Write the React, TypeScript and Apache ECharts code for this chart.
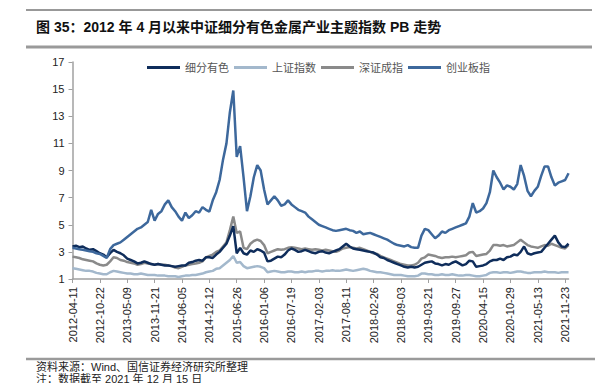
import React, { useEffect, useRef } from "react";
import * as echarts from "echarts";

const tickLabels = ["2012-04-11","2012-10-22","2013-05-09","2013-11-21","2014-06-05","2014-12-12","2015-06-26","2016-01-06","2016-07-19","2017-02-03","2017-08-11","2018-02-26","2018-09-03","2019-03-21","2019-09-27","2020-04-15","2020-10-29","2021-05-13","2021-11-23"];
const pointsPerTick = 8;
const yTicks = [1, 17, 2];

const seriesNames = ["细分有色", "上证指数", "深证成指", "创业板指"];

const nonferrous = [
3.4,3.45,3.35,3.4,3.25,3.15,3.2,3.05,2.9,2.8,2.6,2.9,3.15,3.0,2.9,2.75,
2.5,2.4,2.3,2.15,2.2,2.3,2.2,2.1,2.05,2.1,2.05,2.0,2.0,1.95,1.9,1.95,
2.0,2.0,2.2,2.25,2.35,2.4,2.35,2.6,2.6,2.55,2.8,3.0,3.3,3.6,4.2,4.9,
2.9,3.3,2.9,2.8,3.1,3.0,3.2,3.1,2.95,2.3,2.35,2.5,2.65,2.6,2.8,3.1,
3.25,3.15,3.0,3.05,3.15,3.05,2.95,2.9,3.0,3.05,2.95,2.9,3.0,3.1,3.2,3.4,
3.6,3.4,3.25,3.2,3.15,3.1,3.05,3.0,2.95,2.8,2.6,2.55,2.4,2.3,2.2,2.1,
2.0,1.9,1.85,1.9,1.85,1.9,2.05,2.2,2.25,2.3,2.15,2.1,2.0,2.1,2.05,2.2,
2.3,2.15,2.0,2.1,2.35,2.3,1.9,1.95,2.0,2.1,2.3,2.4,2.4,2.5,2.4,2.6,
2.65,2.8,2.75,3.0,3.4,2.9,2.8,2.9,2.95,3.0,3.3,3.6,3.9,4.2,3.7,3.4,
3.35,3.6];

const shanghai = [
1.8,1.75,1.7,1.65,1.6,1.6,1.55,1.45,1.4,1.35,1.35,1.5,1.6,1.55,1.5,1.45,
1.4,1.4,1.35,1.35,1.4,1.35,1.3,1.3,1.3,1.25,1.25,1.25,1.2,1.2,1.2,1.15,
1.2,1.25,1.25,1.3,1.3,1.35,1.4,1.5,1.55,1.6,1.75,1.8,2.0,2.2,2.4,2.7,
2.2,2.25,1.95,1.8,1.85,1.9,1.95,1.9,1.8,1.5,1.55,1.6,1.55,1.5,1.5,1.55,
1.55,1.5,1.5,1.55,1.5,1.55,1.55,1.6,1.6,1.55,1.6,1.6,1.65,1.6,1.6,1.65,
1.7,1.65,1.6,1.65,1.7,1.75,1.7,1.6,1.55,1.5,1.5,1.45,1.4,1.35,1.3,1.3,
1.3,1.25,1.2,1.2,1.2,1.25,1.4,1.4,1.35,1.35,1.3,1.3,1.35,1.3,1.3,1.35,
1.3,1.25,1.25,1.3,1.3,1.25,1.2,1.2,1.25,1.3,1.45,1.5,1.5,1.45,1.5,1.5,
1.45,1.5,1.55,1.55,1.5,1.45,1.45,1.5,1.5,1.5,1.55,1.5,1.5,1.5,1.45,1.5,
1.5,1.5];

const shenzhen = [
2.65,2.6,2.55,2.45,2.4,2.35,2.3,2.15,2.05,2.0,2.05,2.3,2.6,2.55,2.4,2.35,
2.25,2.2,2.15,2.05,2.1,2.2,2.15,2.1,2.05,2.1,2.05,2.05,2.0,1.95,1.85,1.8,
1.9,2.0,2.05,2.1,2.15,2.2,2.3,2.6,2.7,2.8,3.0,3.1,3.4,3.7,4.6,5.6,
4.4,4.5,3.3,3.2,3.6,3.8,3.9,3.8,3.5,2.9,3.0,3.1,3.2,3.15,3.2,3.3,
3.35,3.3,3.25,3.2,3.25,3.2,3.15,3.2,3.15,3.1,3.15,3.1,3.05,3.0,3.1,3.25,
3.3,3.35,3.3,3.25,3.3,3.2,3.1,3.0,2.9,2.85,2.7,2.6,2.5,2.4,2.3,2.2,
2.1,2.05,2.0,2.0,2.05,2.2,2.5,2.6,2.8,2.75,2.7,2.6,2.55,2.6,2.6,2.65,
2.6,2.65,2.7,2.75,2.95,3.0,2.7,2.75,2.8,2.85,3.1,3.5,3.5,3.45,3.5,3.4,
3.45,3.5,3.7,3.9,3.7,3.5,3.4,3.35,3.3,3.4,3.5,3.45,3.6,3.5,3.4,3.3,
3.25,3.5];

const chinext = [
3.3,3.25,3.2,3.15,3.1,3.05,3.0,2.9,2.85,2.7,2.55,3.2,3.5,3.6,3.7,3.9,
4.1,4.3,4.5,4.7,4.8,5.0,5.2,6.1,5.3,5.8,6.0,6.5,6.8,6.3,6.0,5.6,
5.3,5.9,5.5,5.7,6.0,5.9,6.3,6.1,5.97,6.8,7.4,8.3,9.8,11.0,13.3,14.9,
10.0,10.8,8.5,6.0,7.1,8.5,9.4,9.0,7.6,6.5,6.8,7.1,6.8,6.4,6.5,6.8,
6.5,6.3,6.1,6.0,5.9,5.6,5.4,5.2,5.0,4.9,4.8,4.7,4.6,4.55,4.6,4.65,
4.7,4.6,4.55,4.4,4.5,4.3,4.35,4.4,4.3,4.2,4.1,4.0,3.9,3.75,3.6,3.5,
3.45,3.4,3.5,3.35,3.3,3.3,4.2,4.7,4.6,4.3,4.0,4.2,4.5,4.4,4.6,4.7,
4.8,4.9,5.0,5.1,5.6,6.6,5.9,6.0,6.2,6.6,7.4,9.0,8.5,8.1,7.6,7.9,
7.8,7.6,8.0,9.4,8.6,7.5,7.1,7.5,7.8,8.6,9.3,9.3,8.5,7.9,8.1,8.2,
8.3,8.8];

const colors = { nonferrous: "#0f2d5b", shanghai: "#a3b8cc", shenzhen: "#8a8a8a", chinext: "#3d689c" };

const titleText = "图 35：2012 年 4 月以来中证细分有色金属产业主题指数 PB 走势";
const sourceText = "资料来源：Wind、国信证券经济研究所整理";
const noteText = "注：数据截至 2021 年 12 月 15 日";

const toPairs = (arr: number[]) => arr.map((v, i) => [i, v]);

export default function App() {
  const ref = useRef<HTMLDivElement>(null);
  useEffect(() => {
    document.body.style.margin = "0";
    if (!ref.current) return;
    const chart = echarts.init(ref.current, null, { renderer: "svg" });
    const fontFamily = "'Liberation Sans', Arial, 'Noto Sans CJK SC', sans-serif";
    const cjkFont = "'Liberation Sans', 'Noto Sans CJK SC', sans-serif";
    const lastIndex = chinext.length - 1;
    const tickValues = tickLabels.map((_, i) => i * pointsPerTick);
    const mkSeries = (name: string, data: number[], color: string, z: number) => ({
      name,
      type: "line",
      data: toPairs(data),
      symbol: "none",
      showSymbol: false,
      lineStyle: { color, width: 2.5 },
      itemStyle: { color },
      z,
    });
    chart.setOption({
      animation: false,
      grid: { left: 72.5, right: 602 - 72.8 - lastIndex * 3.419, top: 62, bottom: 104, containLabel: false },
      legend: {
        data: seriesNames,
        left: 142,
        top: 57,
        icon: "rect",
        itemWidth: 33,
        itemHeight: 3,
        itemGap: 5,
        textStyle: { fontSize: 11, color: "#555", fontFamily: cjkFont },
      },
      xAxis: {
        type: "value",
        min: 0,
        max: lastIndex,
        interval: pointsPerTick,
        splitLine: { show: false },
        axisLine: { show: true, lineStyle: { color: "#a0a0a0", width: 1.5 } },
        axisTick: { show: true, length: 4, lineStyle: { color: "#a0a0a0" }, customValues: tickValues },
        axisLabel: {
          rotate: 90,
          margin: 8,
          fontSize: 11,
          color: "#222",
          fontFamily,
          customValues: tickValues,
          formatter: (v: number) => {
            const k = v / pointsPerTick;
            return Number.isInteger(k) && tickLabels[k] ? tickLabels[k] : "";
          },
        },
      },
      yAxis: {
        type: "value",
        min: yTicks[0],
        max: yTicks[1],
        interval: yTicks[2],
        splitLine: { show: false },
        axisLine: { show: true, lineStyle: { color: "#a0a0a0", width: 1.5 } },
        axisTick: { show: true, length: 4, lineStyle: { color: "#a0a0a0" } },
        axisLabel: { fontSize: 11, color: "#222", fontFamily, margin: 8 },
      },
      series: [
        mkSeries("上证指数", shanghai, colors.shanghai, 2),
        mkSeries("深证成指", shenzhen, colors.shenzhen, 3),
        mkSeries("细分有色", nonferrous, colors.nonferrous, 4),
        mkSeries("创业板指", chinext, colors.chinext, 5),
      ],
      graphic: [
        { type: "line", shape: { x1: 26, y1: 10, x2: 592, y2: 10 }, style: { stroke: "#333", lineWidth: 1 } },
        {
          type: "text",
          x: 36,
          y: 27,
          style: { text: titleText, fontSize: 14, fontWeight: "bold", fill: "#111", fontFamily: cjkFont, verticalAlign: "middle" },
        },
        { type: "line", shape: { x1: 26, y1: 47, x2: 592, y2: 47 }, style: { stroke: "#9a9a9a", lineWidth: 3 } },
        { type: "line", shape: { x1: 26, y1: 359, x2: 595, y2: 359 }, style: { stroke: "#9a9a9a", lineWidth: 2.5 } },
        {
          type: "text",
          x: 36,
          y: 367,
          style: { text: sourceText, fontSize: 11, fill: "#222", fontFamily: cjkFont, verticalAlign: "middle" },
        },
        {
          type: "text",
          x: 36,
          y: 379,
          style: { text: noteText, fontSize: 11, fill: "#222", fontFamily: cjkFont, verticalAlign: "middle" },
        },
      ],
    });
    return () => chart.dispose();
  }, []);
  return <div ref={ref} style={{ width: 602, height: 383 }} />;
}
